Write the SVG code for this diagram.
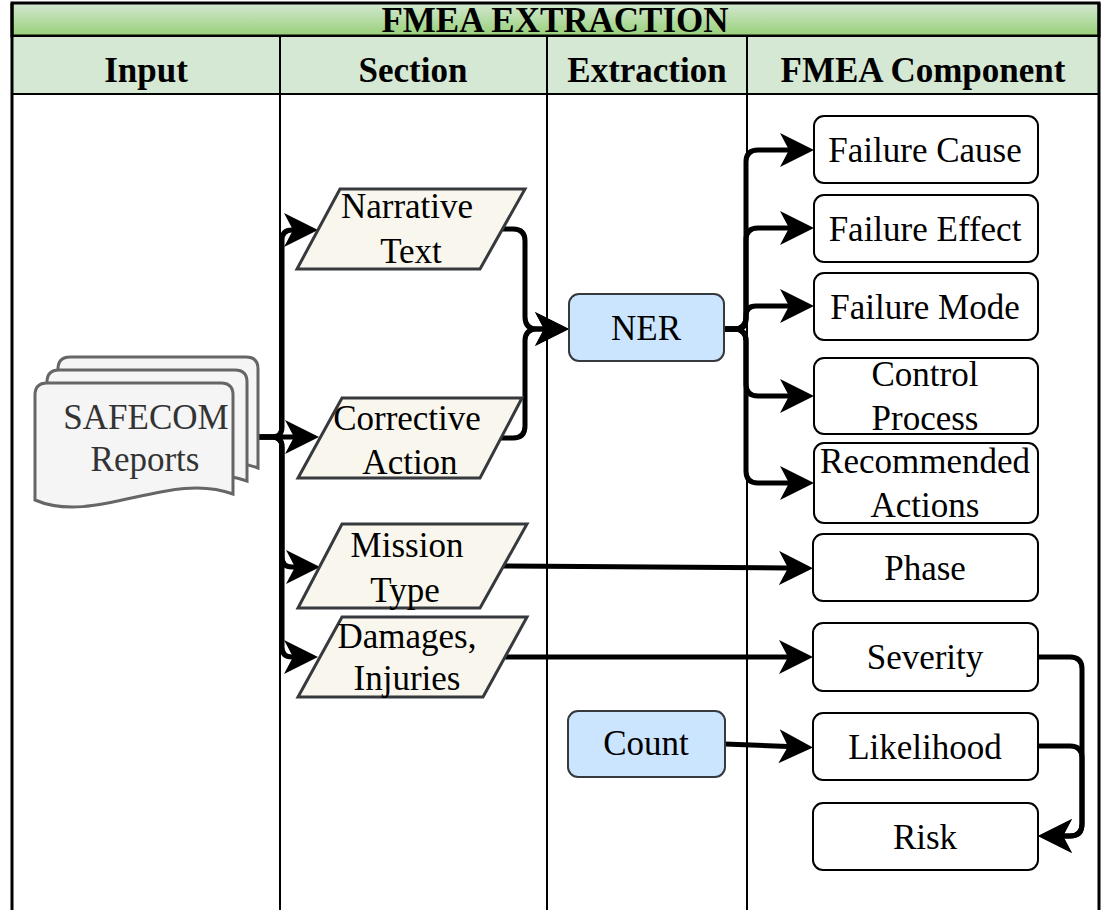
<svg xmlns="http://www.w3.org/2000/svg" width="1106" height="910" viewBox="0 0 1106 910">
<defs>
<linearGradient id="titleGrad" x1="0" y1="0" x2="0" y2="1">
<stop offset="0" stop-color="#d5e8d4"/>
<stop offset="1" stop-color="#97d077"/>
</linearGradient>
<marker id="arr" markerUnits="userSpaceOnUse" viewBox="0 0 34 34" markerWidth="34" markerHeight="34" refX="9" refY="17" orient="auto">
<path d="M0,0 L34,17 L0,34 L9,17 Z" fill="#000"/>
</marker>
<style>
.t{font-family:"Liberation Serif","Times New Roman",serif;font-size:35px;text-anchor:middle;fill:#000}
.h{font-weight:bold}
.g{fill:#333333}
.frame{fill:none;stroke:#000;stroke-width:3}
.div{fill:none;stroke:#000;stroke-width:2}
.box{fill:#ffffff;stroke:#000;stroke-width:2}
.blue{fill:#cce5ff;stroke:#36393d;stroke-width:2}
.para{fill:#f9f7ed;stroke:#36393d;stroke-width:3;stroke-linejoin:miter}
.doc{fill:#f5f5f5;stroke:#666666;stroke-width:3}
.ca{fill:none;stroke:#000;stroke-width:5;stroke-linejoin:round;marker-end:url(#arr)}
</style>
</defs>

<g id="table">
<rect x="12" y="3" width="1087" height="33" fill="url(#titleGrad)" stroke="#000" stroke-width="3"/>
<rect x="12" y="36" width="1087" height="58" fill="#d5e8d4" stroke="#000" stroke-width="2"/>
<line class="div" x1="280" y1="36" x2="280" y2="910"/>
<line class="div" x1="547" y1="36" x2="547" y2="910"/>
<line class="div" x1="747" y1="36" x2="747" y2="910"/>
<line class="frame" x1="12" y1="3" x2="12" y2="910"/>
<line class="frame" x1="1099" y1="3" x2="1099" y2="910"/>
<text class="t h" x="555" y="32">FMEA EXTRACTION</text>
<text class="t h" x="146" y="82">Input</text>
<text class="t h" x="413" y="82">Section</text>
<text class="t h" x="647" y="82">Extraction</text>
<text class="t h" x="923" y="82">FMEA Component</text>
</g>

<g id="connectors">
<path class="ca" d="M258,437 L272,437 Q282,437 282,427 L282,240 Q282,230 292,230 L293,230"/>
<path class="ca" d="M258,437 L294,437"/>
<path class="ca" d="M258,437 L272,437 Q282,437 282,447 L282,557 Q282,567 292,567 L295,567"/>
<path class="ca" d="M258,437 L272,437 Q282,437 282,447 L282,647 Q282,657 292,657 L293,657"/>
<path class="ca" d="M502,229 L513,229 Q525,229 525,241 L525,317 Q525,329 537,329 L544,329"/>
<path class="ca" d="M501,438 L513,438 Q525,438 525,426 L525,341 Q525,329 537,329 L544,329"/>
<path class="ca" d="M724,329 L734,329 Q746,329 746,317 L746,162 Q746,150 758,150 L789,150"/>
<path class="ca" d="M724,329 L734,329 Q746,329 746,317 L746,240 Q746,228 758,228 L789,228"/>
<path class="ca" d="M724,329 L736,329 Q746,329 746,319 L746,316 Q746,306 756,306 L789,306"/>
<path class="ca" d="M724,329 L734,329 Q746,329 746,341 L746,384 Q746,396 758,396 L789,396"/>
<path class="ca" d="M724,329 L734,329 Q746,329 746,341 L746,471 Q746,483 758,483 L789,483"/>
<path class="ca" d="M503,566 L788,568"/>
<path class="ca" d="M505,657 L788,657"/>
<path class="ca" d="M725,744 L788,746.5"/>
<path class="ca" d="M1038,657 L1070,657 Q1082,657 1082,669 L1082,824 Q1082,836 1070,836 L1063,836"/>
<path class="ca" d="M1038,746 L1070,746 Q1082,746 1082,758 L1082,824 Q1082,836 1070,836 L1063,836"/>
</g>

<g id="safecom">
<path class="doc" d="M58,369 Q58,357 70,357 L246,357 Q258,357 258,369 L258,468 C195,444 120,500 58,474 Z"/>
<path class="doc" d="M47,382 Q47,370 59,370 L235,370 Q247,370 247,382 L247,481 C184,457 109,513 47,487 Z"/>
<path class="doc" d="M35,395 Q35,383 47,383 L221,383 Q233,383 233,395 L233,494 C170,470 95,526 35,500 Z"/>
<text class="t g" x="146" y="429">SAFECOM</text>
<text class="t g" x="145" y="471">Reports</text>
</g>

<g id="narrative">
<polygon class="para" points="340,189 525,189 480,269 297,269"/>
<text class="t" x="407" y="218">Narrative</text>
<text class="t" x="411" y="263">Text</text>
</g>

<g id="corrective">
<polygon class="para" points="342,398 522,398 480,478 298,478"/>
<text class="t" x="407" y="430">Corrective</text>
<text class="t" x="410" y="474">Action</text>
</g>

<g id="mission">
<polygon class="para" points="342,524 527,524 480,608 298,608"/>
<text class="t" x="407" y="557">Mission</text>
<text class="t" x="405" y="602">Type</text>
</g>

<g id="damages">
<polygon class="para" points="342,617 527,617 483,697 298,697"/>
<text class="t" x="407" y="648">Damages,</text>
<text class="t" x="407" y="690">Injuries</text>
</g>

<g id="ner">
<rect class="blue" x="569" y="294" width="155" height="67" rx="10"/>
<text class="t" x="646" y="340">NER</text>
</g>

<g id="count">
<rect class="blue" x="568" y="711" width="157" height="66" rx="10"/>
<text class="t" x="646" y="755">Count</text>
</g>

<g id="failure-cause">
<rect class="box" x="814" y="116" width="224" height="67" rx="10"/>
<text class="t" x="925" y="162">Failure Cause</text>
</g>

<g id="failure-effect">
<rect class="box" x="814" y="195" width="224" height="67" rx="10"/>
<text class="t" x="925" y="241">Failure Effect</text>
</g>

<g id="failure-mode">
<rect class="box" x="814" y="273" width="224" height="67" rx="10"/>
<text class="t" x="925" y="319">Failure Mode</text>
</g>

<g id="control-process">
<rect class="box" x="814" y="358" width="224" height="76" rx="10"/>
<text class="t" x="925" y="386">Control</text>
<text class="t" x="925" y="430">Process</text>
</g>

<g id="recommended-actions">
<rect class="box" x="814" y="443" width="224" height="80" rx="10"/>
<text class="t" x="925" y="473">Recommended</text>
<text class="t" x="925" y="517">Actions</text>
</g>

<g id="phase">
<rect class="box" x="813" y="534" width="225" height="67" rx="10"/>
<text class="t" x="925" y="580">Phase</text>
</g>

<g id="severity">
<rect class="box" x="813" y="623" width="225" height="68" rx="10"/>
<text class="t" x="925" y="669">Severity</text>
</g>

<g id="likelihood">
<rect class="box" x="813" y="713" width="225" height="67" rx="10"/>
<text class="t" x="925" y="759">Likelihood</text>
</g>

<g id="risk">
<rect class="box" x="813" y="803" width="225" height="67" rx="10"/>
<text class="t" x="925" y="849">Risk</text>
</g>
</svg>
